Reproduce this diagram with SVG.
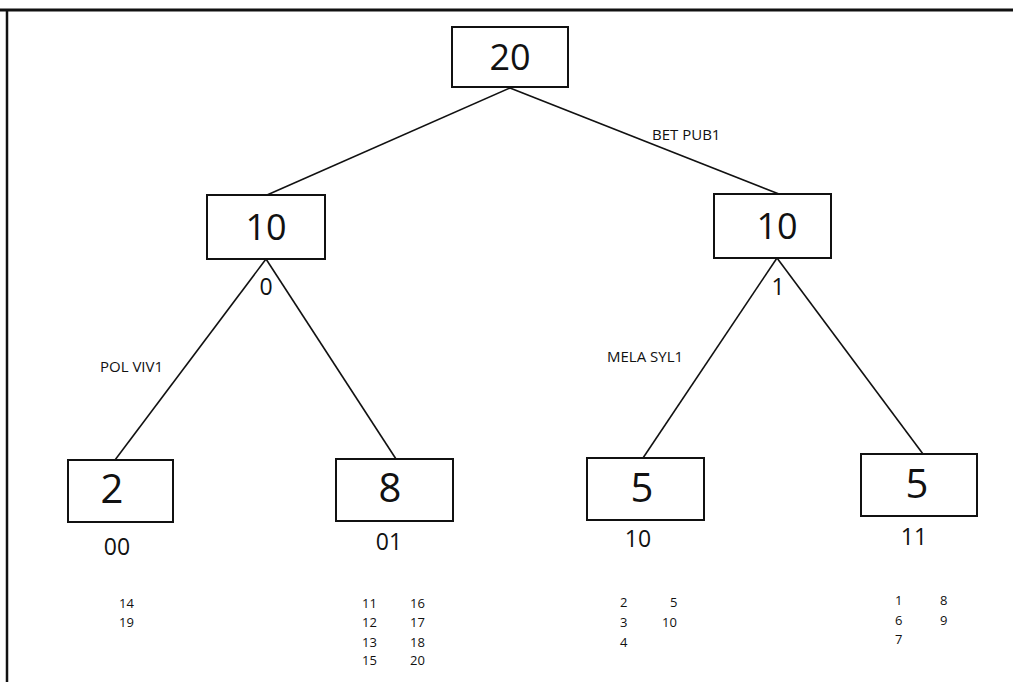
<svg xmlns="http://www.w3.org/2000/svg" width="1013" height="682" viewBox="0 0 1013 682">
<style>
  .box { fill: #fff; stroke: #111; stroke-width: 2; }
  .edge { stroke: #111; stroke-width: 1.6; fill: none; }
  .num { font-family: "Open Sans", "DejaVu Sans", sans-serif; fill: #111; text-anchor: middle; }
  .big { font-size: 36px; }
  .leaf { font-size: 40px; }
  .code { font-size: 23px; }
  .lab { font-family: "Open Sans", "DejaVu Sans", sans-serif; font-size: 15px; fill: #111; }
  .list { font-family: "Open Sans", "DejaVu Sans", sans-serif; font-size: 13px; fill: #111; }
</style>
<rect width="1013" height="682" fill="#fff"/>
<g id="frame">
  <line x1="0" y1="10" x2="1013" y2="10" stroke="#111" stroke-width="3"/>
  <line x1="7" y1="10" x2="7" y2="682" stroke="#111" stroke-width="2.5"/>
</g>
<g id="connectors">
  <line class="edge" x1="510" y1="88" x2="267" y2="195"/>
  <line class="edge" x1="510" y1="88" x2="779" y2="194"/>
  <line class="edge" x1="266" y1="259" x2="115" y2="460"/>
  <line class="edge" x1="266" y1="259" x2="396" y2="459"/>
  <line class="edge" x1="777" y1="258" x2="643" y2="458"/>
  <line class="edge" x1="777" y1="258" x2="923" y2="454"/>
</g>
<g id="labels">
  <text class="lab" x="652" y="140">BET PUB1</text>
  <text class="lab" x="100" y="372">POL VIV1</text>
  <text class="lab" x="607" y="362">MELA SYL1</text>
</g>
<g id="n20">
  <rect class="box" x="452" y="27" width="116" height="60"/>
  <text class="num big" x="510" y="70">20</text>
</g>
<g id="n10a">
  <rect class="box" x="207" y="195" width="118" height="64"/>
  <text class="num big" x="266" y="240">10</text>
  <text class="num code" x="266" y="295">0</text>
</g>
<g id="n10b">
  <rect class="box" x="714" y="194" width="117" height="64"/>
  <text class="num big" x="777" y="239">10</text>
  <text class="num code" x="778" y="295">1</text>
</g>
<g id="n2">
  <rect class="box" x="68" y="460" width="105" height="62"/>
  <text class="num leaf" x="112" y="503">2</text>
  <text class="num code" x="117" y="555">00</text>
  <text class="list" x="119" y="608">14</text>
  <text class="list" x="119" y="627">19</text>
</g>
<g id="n8">
  <rect class="box" x="336" y="459" width="117" height="62"/>
  <text class="num leaf" x="390" y="502">8</text>
  <text class="num code" x="389" y="550">01</text>
  <text class="list" x="362" y="608">11</text>
  <text class="list" x="362" y="627">12</text>
  <text class="list" x="362" y="647">13</text>
  <text class="list" x="362" y="665">15</text>
  <text class="list" x="410" y="608">16</text>
  <text class="list" x="410" y="627">17</text>
  <text class="list" x="410" y="647">18</text>
  <text class="list" x="410" y="665">20</text>
</g>
<g id="n5a">
  <rect class="box" x="587" y="458" width="117" height="62"/>
  <text class="num leaf" x="642" y="502">5</text>
  <text class="num code" x="638" y="547">10</text>
  <text class="list" x="620" y="607">2</text>
  <text class="list" x="620" y="627">3</text>
  <text class="list" x="620" y="647">4</text>
  <text class="list" x="670" y="607">5</text>
  <text class="list" x="662" y="627">10</text>
</g>
<g id="n5b">
  <rect class="box" x="861" y="454" width="116" height="62"/>
  <text class="num leaf" x="917" y="498">5</text>
  <text class="num code" x="914" y="545">11</text>
  <text class="list" x="895" y="605">1</text>
  <text class="list" x="895" y="625">6</text>
  <text class="list" x="895" y="644">7</text>
  <text class="list" x="940" y="605">8</text>
  <text class="list" x="940" y="625">9</text>
</g>
</svg>
